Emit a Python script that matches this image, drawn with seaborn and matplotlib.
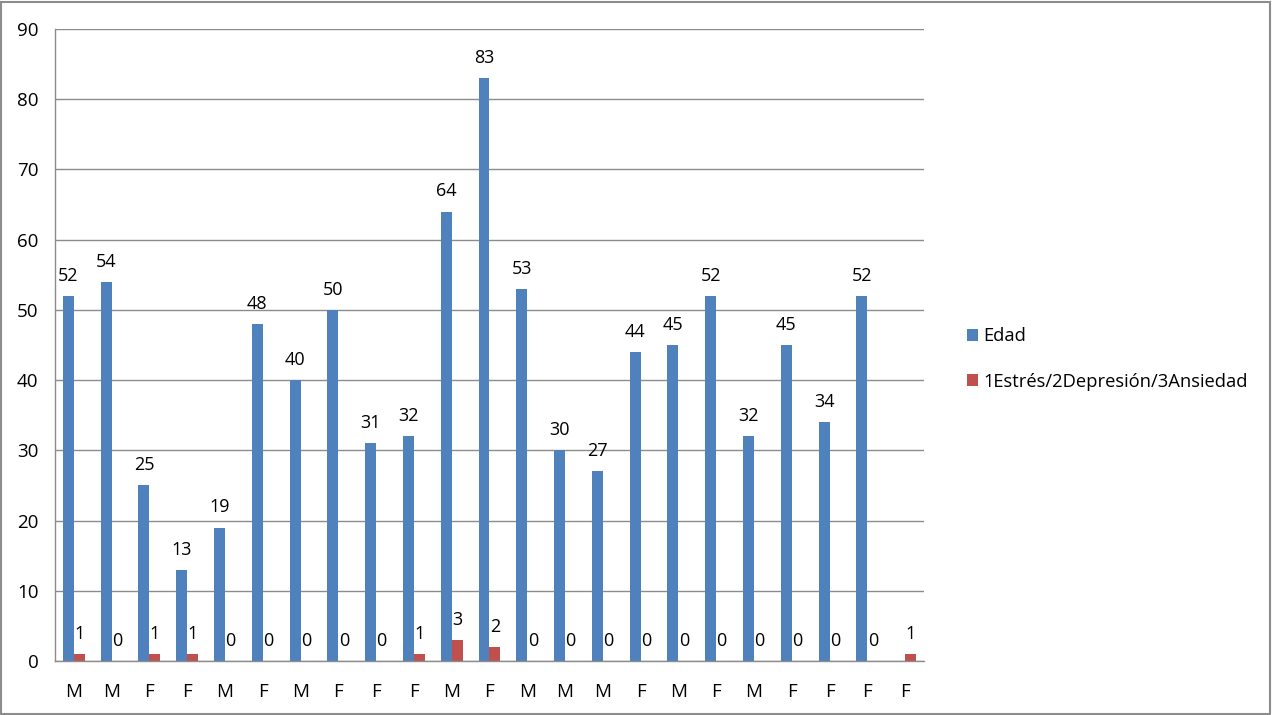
import matplotlib.pyplot as plt
import seaborn as sns
import pandas as pd
import numpy as np
from matplotlib.patches import Rectangle

sexo = ['M', 'M', 'F', 'F', 'M', 'F', 'M', 'F', 'F', 'F', 'M', 'F',
        'M', 'M', 'M', 'F', 'M', 'F', 'M', 'F', 'F', 'F', 'F']
edad = [52, 54, 25, 13, 19, 48, 40, 50, 31, 32, 64, 83,
        53, 30, 27, 44, 45, 52, 32, 45, 34, 52, np.nan]
diagnostico = [1, 0, 1, 1, 0, 0, 0, 0, 0, 1, 3, 2,
               0, 0, 0, 0, 0, 0, 0, 0, 0, 0, 1]
series = ['Edad', '1Estrés/2Depresión/3Ansiedad']
colores = ['#4F81BD', '#C0504D']

idx = [str(i) for i in range(len(sexo))]
records = pd.concat([
    pd.DataFrame({'idx': idx, 'serie': series[0], 'valor': edad}),
    pd.DataFrame({'idx': idx, 'serie': series[1], 'valor': diagnostico}),
], ignore_index=True)

sns.set_style('white')
plt.rcParams['font.family'] = ['Open Sans', 'DejaVu Sans']
plt.rcParams['text.color'] = 'black'
plt.rcParams['xtick.color'] = 'black'
plt.rcParams['ytick.color'] = 'black'

fig = plt.figure(figsize=(12.73, 7.15), dpi=100)
ax = fig.add_axes([55 / 1273, 54 / 715, 869 / 1273, 632 / 715])

sns.barplot(data=records, x='idx', y='valor', hue='serie', order=idx,
            hue_order=series, palette=colores, width=0.58, gap=0,
            saturation=1, errorbar=None, ax=ax, linewidth=0)

for cont in ax.containers:
    labels = ['' if np.isnan(b.get_height()) else '%d' % b.get_height() for b in cont]
    ax.bar_label(cont, labels=labels, padding=8, fontsize=13, color='black')

ax.set_ylim(0, 90)
ax.set_yticks(range(0, 91, 10))
ax.set_xlim(-0.5, len(sexo) - 0.5)
ax.set_xticks(range(len(sexo)))
ax.set_xticklabels(sexo)
ax.set_xticks(np.arange(-0.5, len(sexo), 1), minor=True)
ax.tick_params(axis='x', which='major', length=0, pad=16, labelsize=13.5, labelcolor='black')
ax.tick_params(axis='x', which='minor', length=6, color='#8c8c8c', direction='out')
ax.tick_params(axis='y', length=6, color='#8c8c8c', labelsize=13.5, pad=6, labelcolor='black')
ax.yaxis.grid(True, color='#8c8c8c', linewidth=1)
ax.set_axisbelow(True)
ax.set_xlabel('')
ax.set_ylabel('')
for s in ['top', 'right']:
    ax.spines[s].set_visible(False)
for s in ['left', 'bottom']:
    ax.spines[s].set_color('#8c8c8c')
    ax.spines[s].set_linewidth(1)

handles, lbls = ax.get_legend_handles_labels()
leg = ax.legend(handles, lbls, loc='center left', bbox_to_anchor=(950 / 1273, 356 / 715),
                bbox_transform=fig.transFigure, frameon=False, fontsize=13.2,
                handlelength=0.6, handleheight=0.6, handletextpad=0.3, labelspacing=1.5)
for t in leg.get_texts():
    t.set_color('black')

fig.patches.append(Rectangle((0.001, 0.002), 0.997, 0.995, transform=fig.transFigure,
                             fill=False, edgecolor='#8c8c8c', linewidth=1.5))

plt.savefig('out.png', dpi=100)
